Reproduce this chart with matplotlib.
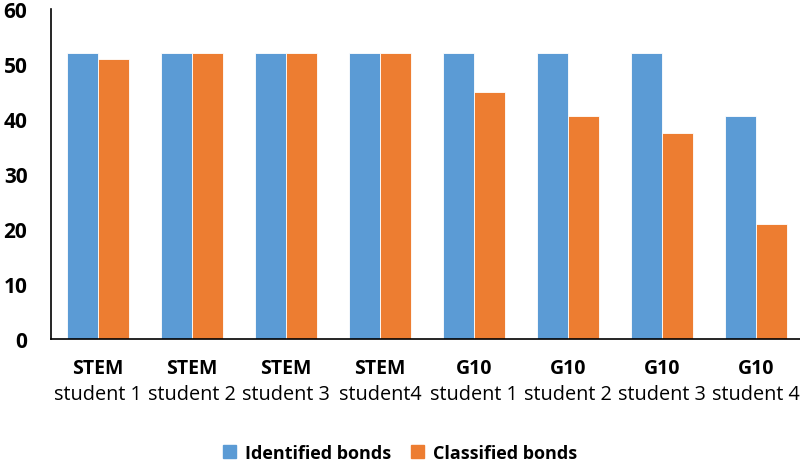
import numpy as np
import matplotlib
matplotlib.use("Agg")
import matplotlib.pyplot as plt
from matplotlib.transforms import blended_transform_factory
from matplotlib.patches import Patch

plt.rcParams["font.family"] = ["Open Sans", "DejaVu Sans"]

groups = ["STEM", "STEM", "STEM", "STEM", "G10", "G10", "G10", "G10"]
students = ["student 1", "student 2", "student 3", "student4",
            "student 1", "student 2", "student 3", "student 4"]
identified = [52, 52, 52, 52, 52, 52, 52, 40.5]
classified = [51, 52, 52, 52, 45, 40.5, 37.5, 21]

BLUE = "#5B9BD5"
ORANGE = "#ED7D31"

fig = plt.figure(figsize=(8, 4.64), dpi=100)
ax = fig.add_axes([51 / 800, 124 / 464, 752 / 800, 330 / 464])

x = np.arange(len(groups))
w = 0.33
ax.bar(x - w / 2, identified, w, color=BLUE, edgecolor="white", lw=0.6)
ax.bar(x + w / 2, classified, w, color=ORANGE, edgecolor="white", lw=0.6)

ax.set_xlim(-0.5, len(groups) - 0.5)
ax.set_ylim(0, 60)
ax.set_yticks(range(0, 61, 10))
ax.tick_params(axis="y", length=0, pad=17, labelsize=15)
for lbl in ax.get_yticklabels():
    lbl.set_fontweight("bold")
ax.set_xticks([])
for s in ("top", "right"):
    ax.spines[s].set_visible(False)
for s in ("left", "bottom"):
    ax.spines[s].set_color("black")
    ax.spines[s].set_linewidth(1.2)

tr = blended_transform_factory(ax.transData, fig.transFigure)
for i in range(len(groups)):
    fig.text(i, 1 - 369 / 464, groups[i], transform=tr, ha="center", va="center",
             fontsize=14, fontweight="bold")
    fig.text(i, 1 - 395 / 464, students[i], transform=tr, ha="center", va="center",
             fontsize=14.3)

handles = [Patch(color=BLUE, label="Identified bonds"),
           Patch(color=ORANGE, label="Classified bonds")]
fig.legend(handles=handles, loc="center", bbox_to_anchor=(0.5, 1 - 454 / 464), ncol=2,
           frameon=False, prop={"size": 13, "weight": "bold"},
           handlelength=0.7, handleheight=0.7, columnspacing=1.1, handletextpad=0.5)

fig.savefig("out.png", dpi=100)
